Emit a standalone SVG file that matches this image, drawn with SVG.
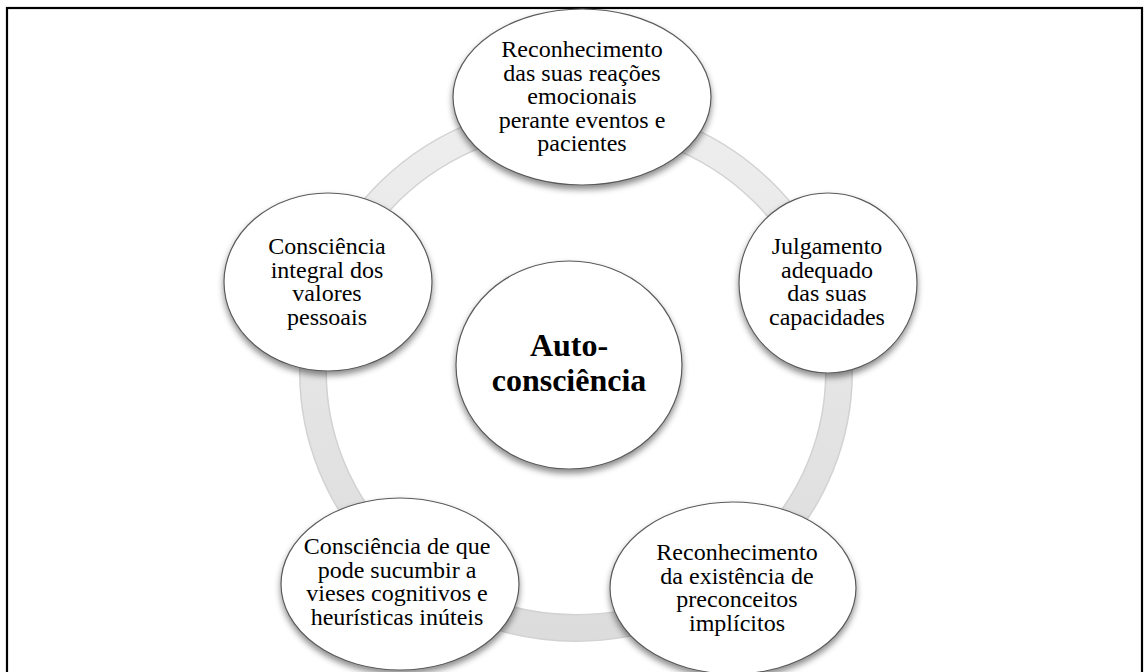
<svg xmlns="http://www.w3.org/2000/svg" width="1144" height="672" viewBox="0 0 1144 672">
<defs>
<filter id="sh" x="-20%" y="-20%" width="140%" height="150%">
<feDropShadow dx="0" dy="4" stdDeviation="3" flood-color="#000" flood-opacity="0.45"/>
</filter>
<linearGradient id="ringg" x1="0" y1="0" x2="0" y2="1">
<stop offset="0" stop-color="#eeeeee"/>
<stop offset="1" stop-color="#dcdcdc"/>
</linearGradient>
</defs>
<style>
.node{fill:#ffffff;stroke:#5a5a5a;stroke-width:1.2;filter:url(#sh);}
.t{font-family:"Liberation Serif","Times New Roman",serif;font-size:24px;fill:#000;text-anchor:middle;}
.tb{font-family:"Liberation Serif","Times New Roman",serif;font-size:32px;font-weight:bold;fill:#000;text-anchor:middle;}
</style>
<rect x="0" y="0" width="1144" height="672" fill="#ffffff"/>
<rect x="7" y="8" width="1135" height="700" fill="none" stroke="#000" stroke-width="2.2"/>
<g id="connectors">
<ellipse cx="576" cy="372" rx="263" ry="256" fill="none" stroke="#d2d2d2" stroke-width="28"/>
<ellipse cx="576" cy="372" rx="263" ry="256" fill="none" stroke="url(#ringg)" stroke-width="25"/>
</g>
<g id="center">
<ellipse class="node" cx="569" cy="365" rx="113" ry="104"/>
<text class="tb" x="569" y="356">Auto-</text>
<text class="tb" x="569" y="391">consciência</text>
</g>
<g id="n1">
<ellipse class="node" cx="582" cy="97" rx="129" ry="88"/>
<text class="t" x="582" y="57">Reconhecimento</text>
<text class="t" x="582" y="80.5">das suas reações</text>
<text class="t" x="582" y="104">emocionais</text>
<text class="t" x="582" y="127.5">perante eventos e</text>
<text class="t" x="582" y="151">pacientes</text>
</g>
<g id="n2">
<ellipse class="node" cx="828" cy="283" rx="89" ry="90"/>
<text class="t" x="827" y="254">Julgamento</text>
<text class="t" x="827" y="277.5">adequado</text>
<text class="t" x="827" y="301">das suas</text>
<text class="t" x="827" y="324.5">capacidades</text>
</g>
<g id="n3">
<ellipse class="node" cx="733" cy="588" rx="123" ry="86"/>
<text class="t" x="737" y="560">Reconhecimento</text>
<text class="t" x="737" y="583.5">da existência de</text>
<text class="t" x="737" y="607">preconceitos</text>
<text class="t" x="737" y="630.5">implícitos</text>
</g>
<g id="n4">
<ellipse class="node" cx="400" cy="584" rx="119" ry="86"/>
<text class="t" x="397" y="554">Consciência de que</text>
<text class="t" x="397" y="577.5">pode sucumbir a</text>
<text class="t" x="397" y="601">vieses cognitivos e</text>
<text class="t" x="397" y="624.5">heurísticas inúteis</text>
</g>
<g id="n5">
<ellipse class="node" cx="328" cy="282" rx="104" ry="89"/>
<text class="t" x="327" y="254">Consciência</text>
<text class="t" x="327" y="277.5">integral dos</text>
<text class="t" x="327" y="301">valores</text>
<text class="t" x="327" y="324.5">pessoais</text>
</g>
</svg>
